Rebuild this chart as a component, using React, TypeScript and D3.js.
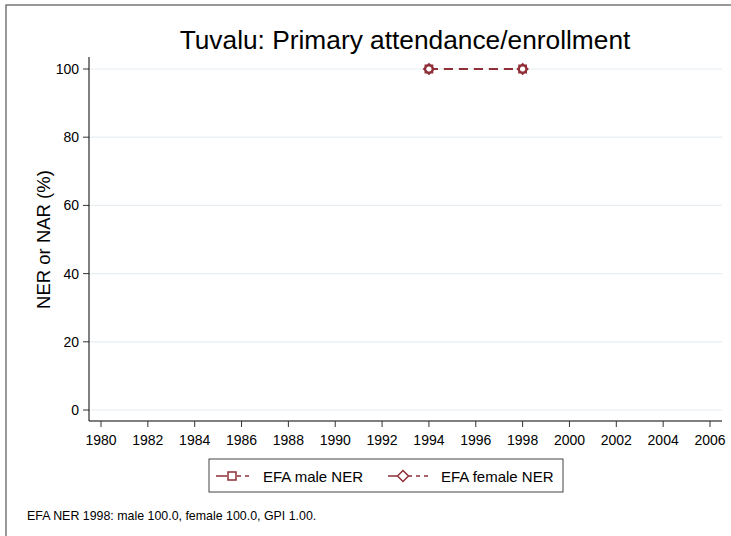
import React from "react";
import * as d3 from "d3";

const years = [1994, 1998];
const maleNER = [100, 100];
const femaleNER = [100, 100];
const xTicks = [1980, 1982, 1984, 1986, 1988, 1990, 1992, 1994, 1996, 1998, 2000, 2002, 2004, 2006];
const yTicks = [0, 20, 40, 60, 80, 100];
const title = "Tuvalu: Primary attendance/enrollment";
const yLabel = "NER or NAR (%)";
const note = "EFA NER 1998: male 100.0, female 100.0, GPI 1.00.";
const legendLabels = ["EFA male NER", "EFA female NER"];

const W = 731, H = 536;
const left = 89, right = 722, top = 69, bottom = 410;
const color = "#8f2f38";
const font = "'Liberation Sans', Arial, sans-serif";

export default function App() {
  const x = d3.scaleLinear().domain([1980, 2006]).range([101, 710]);
  const y = d3.scaleLinear().domain([0, 100]).range([bottom, top]);
  const line = d3.line<number>().x((_, i) => x(years[i])).y((d) => y(d));
  const sq = (cx: number, cy: number, s: number) => `M${cx - s},${cy - s}h${2 * s}v${2 * s}h${-2 * s}Z`;
  const dm = (cx: number, cy: number, s: number) => `M${cx},${cy - s}L${cx + s},${cy}L${cx},${cy + s}L${cx - s},${cy}Z`;
  const axisY = 421;
  return (
    <svg width={W} height={H} style={{ position: "absolute", left: 0, top: 0, background: "#fff", fontFamily: font }}>
      <rect x={0} y={0} width={W} height={H} fill="#fff" />
      <rect x={6} y={5} width={W + 10} height={H + 10} fill="none" stroke="#555" strokeWidth={1.2} />
      <text x={405} y={49} textAnchor="middle" fontSize={26.3} fill="#000">{title}</text>
      {yTicks.map((t) => (
        <g key={t}>
          <line x1={left} x2={right} y1={y(t)} y2={y(t)} stroke="#e6eef2" strokeWidth={1.2} />
          <line x1={83} x2={left} y1={y(t)} y2={y(t)} stroke="#333" />
          <text x={79} y={y(t) + 5} textAnchor="end" fontSize={14}>{t}</text>
        </g>
      ))}
      <line x1={left} x2={left} y1={57} y2={axisY} stroke="#000" />
      <line x1={left} x2={right} y1={axisY} y2={axisY} stroke="#000" />
      {xTicks.map((t) => (
        <g key={t}>
          <line x1={x(t)} x2={x(t)} y1={axisY} y2={axisY + 6} stroke="#333" />
          <text x={x(t)} y={axisY + 24} textAnchor="middle" fontSize={14}>{t}</text>
        </g>
      ))}
      <text transform={`translate(50,${(top + bottom) / 2}) rotate(-90)`} textAnchor="middle" fontSize={18.5}>{yLabel}</text>
      <path d={line(maleNER) || ""} fill="none" stroke={color} strokeWidth={2} strokeDasharray="9,6" />
      <path d={line(femaleNER) || ""} fill="none" stroke={color} strokeWidth={2} strokeDasharray="9,6" />
      {years.map((yr, i) => (
        <g key={yr}>
          <path d={sq(x(yr), y(maleNER[i]), 3.5)} fill="#fff" stroke={color} strokeWidth={1.8} />
          <path d={dm(x(yr), y(femaleNER[i]), 5)} fill="none" stroke={color} strokeWidth={1.8} />
        </g>
      ))}
      <rect x={209} y={459} width={354} height={33} fill="#fff" stroke="#444" strokeWidth={1} />
      <g>
        <line x1={216} x2={227} y1={476} y2={476} stroke={color} strokeWidth={1.5} />
        <line x1={237} x2={251} y1={476} y2={476} stroke={color} strokeWidth={1.5} strokeDasharray="4,4" />
        <path d={sq(232, 476, 4)} fill="#fff" stroke={color} strokeWidth={1.5} />
        <text x={263} y={481.5} fontSize={15}>{legendLabels[0]}</text>
      </g>
      <g>
        <line x1={388} x2={397} y1={476} y2={476} stroke={color} strokeWidth={1.5} />
        <line x1={408} x2={428} y1={476} y2={476} stroke={color} strokeWidth={1.5} strokeDasharray="4,4" />
        <path d={dm(403, 476, 5.5)} fill="#fff" stroke={color} strokeWidth={1.5} />
        <text x={441} y={481.5} fontSize={15}>{legendLabels[1]}</text>
      </g>
      <text x={27} y={520} fontSize={12.4}>{note}</text>
    </svg>
  );
}
